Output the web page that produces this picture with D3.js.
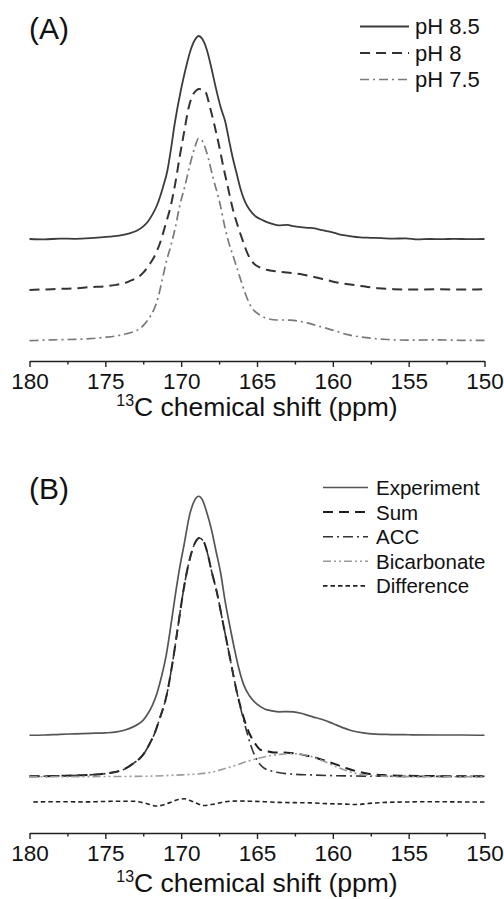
<!DOCTYPE html>
<html>
<head>
<meta charset="utf-8">
<script src="https://cdn.jsdelivr.net/npm/d3@7"></script>
<style>
  html, body { margin: 0; padding: 0; background: #fff; }
  svg { display: block; }
  text { font-family: "Liberation Sans", Arial, Helvetica, sans-serif; fill: #111; }
</style>
</head>
<body>
<svg id="chart" width="504" height="899"></svg>
<script>
// ---------- DATA ----------
const majorTicks = [180, 175, 170, 165, 160, 155, 150];
const minorTicks = [177.5, 172.5, 167.5, 162.5, 157.5, 152.5];
const axisTitleSup = "13";
const axisTitleMain = "C chemical shift (ppm)";

// Panel A: normalized intensity [ppm, intensity] relative to each trace's own baseline
const panelALabels = ["pH 8.5", "pH 8", "pH 7.5"];
const panelAOffsets = [0.601, 0.35, 0.103];
const ph85 = [[180,0],[179,-0.002],[178,0.002],[177,0.001],[176,0.004],[175.3,0.008],[174.7,0.012],[174,0.018],[173.4,0.028],[172.9,0.042],[172.5,0.062],[172.2,0.085],[171.9,0.12],[171.6,0.165],[171.2,0.255],[170.9,0.34],[170.7,0.43],[170.4,0.58],[170.0,0.74],[169.7,0.84],[169.4,0.925],[169.1,0.98],[168.85,1.0],[168.6,0.985],[168.3,0.93],[168.0,0.84],[167.7,0.74],[167.4,0.65],[167.1,0.58],[166.8,0.47],[166.6,0.40],[166.3,0.31],[166.1,0.25],[165.8,0.185],[165.5,0.145],[165.1,0.112],[164.6,0.092],[164.1,0.077],[163.6,0.067],[163.0,0.07],[162.6,0.063],[162.1,0.058],[161.6,0.055],[161.2,0.052],[160.8,0.045],[160.3,0.037],[159.9,0.03],[159.4,0.02],[158.8,0.013],[158.2,0.008],[157.5,0.006],[156.8,0.004],[156,0.002],[155.2,0.003],[154.4,-0.002],[153.6,0],[152.8,-0.001],[152,0.001],[151,-0.001],[150,0]];
const ph8 = [[180,0],[178.5,0.004],[177,0.008],[176,0.014],[175,0.018],[174.3,0.025],[173.7,0.034],[173.2,0.05],[172.8,0.065],[172.5,0.085],[172.1,0.125],[171.8,0.16],[171.4,0.23],[171.0,0.33],[170.7,0.41],[170.4,0.52],[170.1,0.655],[169.8,0.78],[169.5,0.9],[169.2,0.965],[168.8,0.99],[168.4,0.975],[168.1,0.9],[167.8,0.81],[167.5,0.71],[167.2,0.6],[166.9,0.5],[166.6,0.4],[166.2,0.3],[165.9,0.235],[165.6,0.175],[165.2,0.13],[164.8,0.11],[164.3,0.098],[163.8,0.092],[163.2,0.087],[162.6,0.082],[162.0,0.076],[161.4,0.067],[160.8,0.056],[160.2,0.045],[159.6,0.035],[159.0,0.028],[158.4,0.022],[157.7,0.015],[157,0.008],[156,0.004],[155,0.002],[153,0.003],[151.5,0.002],[150,0.003]];
const ph75 = [[180,-0.003],[178.5,0.001],[177,0.004],[176,0.007],[175.1,0.013],[174.3,0.02],[173.6,0.031],[173.2,0.04],[172.7,0.058],[172.4,0.08],[172.05,0.115],[171.8,0.15],[171.5,0.215],[171.3,0.28],[171.0,0.38],[170.7,0.46],[170.4,0.55],[170.1,0.66],[169.75,0.76],[169.4,0.87],[169.1,0.95],[168.85,0.994],[168.6,0.98],[168.3,0.92],[167.9,0.8],[167.45,0.675],[167.1,0.55],[166.9,0.49],[166.6,0.42],[166.3,0.35],[166.0,0.28],[165.7,0.215],[165.3,0.155],[164.8,0.123],[164.3,0.106],[163.7,0.099],[163.2,0.099],[162.8,0.098],[162.3,0.094],[161.7,0.085],[161.1,0.072],[160.4,0.058],[159.7,0.042],[159.1,0.028],[158.2,0.016],[157.3,0.008],[156.4,0.003],[155,0],[153,0.001],[151.5,-0.001],[150,-0.001]];

// Panel B
const panelBLabels = ["Experiment", "Sum", "ACC", "Bicarbonate", "Difference"];
const panelBOffsets = [0.409, 0.237, 0.237, 0.235, 0.13];
const experiment = [[180,0],[179,0.001],[178,0.004],[177,0.006],[176,0.008],[175,0.01],[174.25,0.014],[173.7,0.022],[173.2,0.034],[172.8,0.048],[172.5,0.063],[172.2,0.09],[171.9,0.125],[171.6,0.175],[171.3,0.245],[171.0,0.33],[170.7,0.45],[170.4,0.58],[170.1,0.7],[169.8,0.8],[169.45,0.92],[169.1,0.985],[168.85,1.0],[168.6,0.985],[168.3,0.93],[168.0,0.86],[167.7,0.77],[167.4,0.68],[167.1,0.56],[166.8,0.46],[166.5,0.365],[166.2,0.28],[165.9,0.215],[165.5,0.165],[165.0,0.13],[164.5,0.11],[164.0,0.102],[163.5,0.098],[163.0,0.099],[162.6,0.098],[162.1,0.092],[161.6,0.082],[161.1,0.073],[160.6,0.064],[160.0,0.049],[159.4,0.033],[158.8,0.02],[158.0,0.01],[157.2,0.005],[156.2,0.003],[155,0.002],[153,0.001],[151.5,0.001],[150,0]];
const sum = [[180,0],[178,0.002],[176.5,0.005],[175.35,0.009],[174.7,0.014],[174.1,0.022],[173.6,0.035],[173.2,0.052],[172.7,0.077],[172.35,0.105],[172.05,0.14],[171.75,0.18],[171.45,0.235],[170.95,0.342],[170.52,0.495],[170.19,0.635],[169.86,0.774],[169.42,0.913],[169.1,0.975],[168.8,0.997],[168.5,0.98],[168.25,0.93],[168.0,0.86],[167.66,0.774],[167.22,0.635],[166.78,0.495],[166.34,0.356],[165.9,0.25],[165.46,0.174],[165.1,0.135],[164.8,0.112],[164.36,0.105],[163.92,0.1],[163.0,0.099],[162.38,0.095],[161.6,0.085],[161.07,0.077],[160.4,0.063],[159.75,0.049],[159.1,0.034],[158.43,0.021],[157.55,0.01],[156.5,0.005],[155.57,0.003],[153,0.001],[150,0]];
const acc = [[180,0],[178,0.002],[176.5,0.005],[175.35,0.009],[174.7,0.014],[174.1,0.022],[173.6,0.035],[173.2,0.052],[172.7,0.077],[172.35,0.105],[172.05,0.14],[171.75,0.18],[171.45,0.235],[170.95,0.342],[170.52,0.495],[170.19,0.635],[169.86,0.774],[169.42,0.913],[169.1,0.975],[168.8,0.997],[168.5,0.98],[168.25,0.93],[168.0,0.86],[167.66,0.774],[167.22,0.635],[166.78,0.495],[166.34,0.356],[165.9,0.24],[165.6,0.17],[165.3,0.11],[165.0,0.068],[164.6,0.038],[164.14,0.024],[163.5,0.015],[162.8,0.01],[161.5,0.006],[160,0.003],[158,0.001],[155,0],[150,0]];
const bicarbonate = [[180,0],[176,0.001],[173,0.002],[171,0.005],[170,0.008],[168.76,0.013],[167.8,0.022],[167.0,0.037],[166.3,0.05],[165.68,0.064],[165.0,0.076],[164.36,0.086],[163.6,0.093],[162.9,0.097],[162.3,0.096],[161.73,0.09],[161.1,0.078],[160.4,0.06],[159.7,0.04],[159.09,0.025],[158.4,0.013],[157.77,0.007],[156.8,0.003],[155.5,0.001],[150,0]];
const difference = [[179.75,0],[178,0.001],[176.5,0],[175,0.002],[174,0.003],[173.2,0.003],[172.4,-0.005],[171.6,-0.017],[170.8,-0.004],[170.2,0.01],[169.8,0.013],[169.3,0.003],[168.5,-0.015],[167.9,-0.01],[167.2,0],[166.3,0.004],[165.5,0.003],[164.5,0.001],[163.5,-0.002],[162.5,-0.003],[161.5,-0.004],[160.4,-0.007],[159.3,-0.009],[158.4,-0.011],[157.6,-0.006],[156.5,-0.002],[155,0],[153,0.001],[151.5,0],[150,0]];

// ---------- STYLES ----------
const stylesA = [
  {color: "#3c3c3c", width: 1.8, dash: null},
  {color: "#333333", width: 2.0, dash: "10,6"},
  {color: "#7a7a7a", width: 1.7, dash: "9,4,2,4"}
];
const stylesB = [
  {color: "#555555", width: 1.7, dash: null},
  {color: "#1e1e1e", width: 2.0, dash: "10,6"},
  {color: "#333333", width: 1.6, dash: "10,4,2,4"},
  {color: "#9a9a9a", width: 1.6, dash: "8,3,2,3,2,3"},
  {color: "#222222", width: 1.6, dash: "4.5,3"}
];

const svg = d3.select("#chart");
svg.append("rect").attr("width", 504).attr("height", 899).attr("fill", "#fff");

const x = d3.scaleLinear().domain([180, 150]).range([29.5, 484.5]);

function drawPanel(cfg) {
  const g = svg.append("g");
  const y = d3.scaleLinear().domain([0, cfg.topVal]).range([cfg.axisY, cfg.topY]);
  const line = d3.line()
    .x(d => x(d[0]))
    .y(d => y(d[1]))
    .curve(d3.curveMonotoneX);

  cfg.series.forEach((s, i) => {
    const st = cfg.styles[i];
    const pts = s.map(p => [p[0], p[1] + cfg.offsets[i]]);
    g.append("path")
      .datum(pts)
      .attr("d", line)
      .attr("fill", "none")
      .attr("stroke", st.color)
      .attr("stroke-width", st.width)
      .attr("stroke-linejoin", "round")
      .attr("stroke-dasharray", st.dash);
  });

  // minor ticks
  const minorAxis = d3.axisBottom(x).tickValues(minorTicks).tickSize(3.5).tickSizeOuter(0).tickFormat("");
  const gMin = g.append("g").attr("transform", `translate(0,${cfg.axisY})`).call(minorAxis);
  gMin.select(".domain").remove();
  gMin.selectAll("line").attr("stroke", "#222").attr("stroke-width", 1.4);

  const majorAxis = d3.axisBottom(x).tickValues(majorTicks).tickSize(6).tickSizeOuter(0).tickPadding(6).tickFormat(d3.format("d"));
  const gMaj = g.append("g").attr("transform", `translate(0,${cfg.axisY})`).call(majorAxis);
  gMaj.select(".domain").attr("stroke", "#222").attr("stroke-width", 1.6);
  gMaj.selectAll("line").attr("stroke", "#222").attr("stroke-width", 1.4);
  gMaj.selectAll("text")
    .attr("font-size", 22.5)
    .attr("font-family", '"Liberation Sans", Arial, sans-serif')
    .attr("fill", "#111");

  // axis title
  const t = g.append("text")
    .attr("x", x(165))
    .attr("y", cfg.axisY + cfg.titleDy)
    .attr("text-anchor", "middle")
    .attr("font-size", 26.5);
  t.append("tspan").attr("font-size", 16).attr("dy", -10).text(axisTitleSup);
  t.append("tspan").attr("dy", 10).text(axisTitleMain);

  // panel letter
  g.append("text").attr("x", 29).attr("y", cfg.letterY).attr("font-size", 30).text(cfg.letter);

  // legend
  cfg.labels.forEach((lab, i) => {
    const st = cfg.styles[i];
    const ly = cfg.legY0 + i * cfg.legDy;
    g.append("line")
      .attr("x1", cfg.legX1).attr("x2", cfg.legX2)
      .attr("y1", ly).attr("y2", ly)
      .attr("stroke", st.color)
      .attr("stroke-width", st.width)
      .attr("stroke-dasharray", st.dash);
    g.append("text")
      .attr("x", cfg.legTextX)
      .attr("y", ly + 7.5)
      .attr("font-size", cfg.legFont)
      .text(lab);
  });
}

drawPanel({
  axisY: 361, topY: 20, topVal: 341 / 203, titleDy: 55,
  series: [ph85, ph8, ph75], offsets: panelAOffsets, styles: stylesA,
  labels: panelALabels, letter: "(A)", letterY: 39,
  legX1: 360, legX2: 409, legTextX: 415, legY0: 26.5, legDy: 26.5, legFont: 22
});

drawPanel({
  axisY: 833, topY: 470, topVal: 363 / 239, titleDy: 59,
  series: [experiment, sum, acc, bicarbonate, difference], offsets: panelBOffsets, styles: stylesB,
  labels: panelBLabels, letter: "(B)", letterY: 499,
  legX1: 323, legX2: 368, legTextX: 376, legY0: 487.5, legDy: 24.6, legFont: 20.5
});
</script>
</body>
</html>
